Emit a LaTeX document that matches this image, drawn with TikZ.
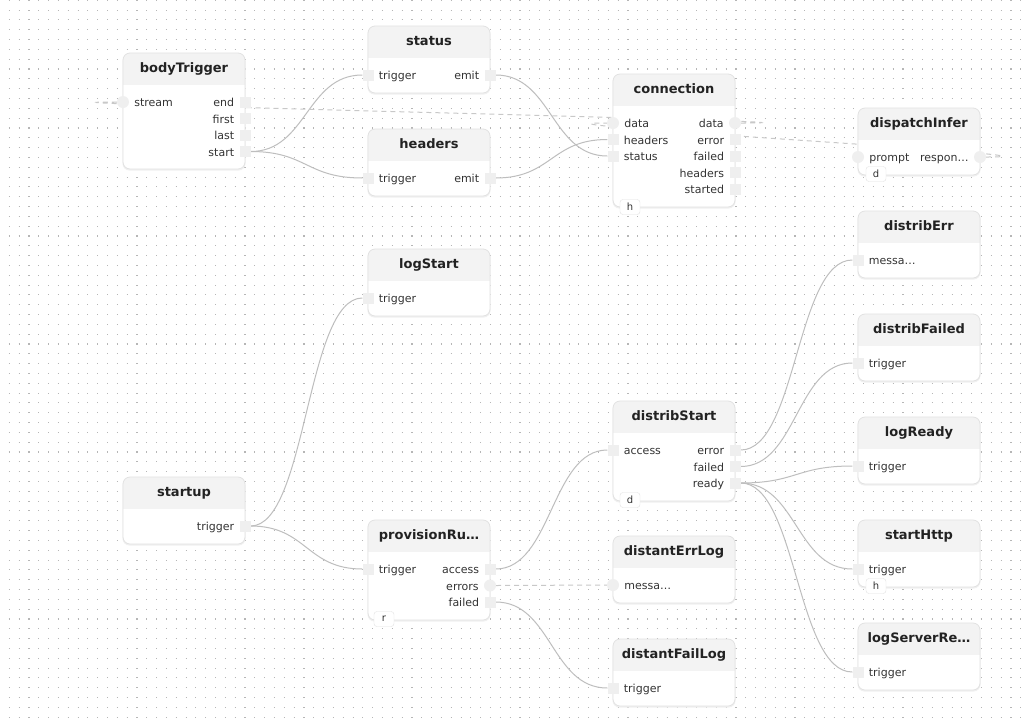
\documentclass[tikz,border=0pt]{standalone}
\usepackage{fontspec}
\setmainfont{DejaVu Sans}
\usepackage{xcolor}
\usepackage{tikz}
\usetikzlibrary{positioning}
\definecolor{gridcol}{HTML}{B6B6B6}
\definecolor{headfill}{HTML}{F3F3F3}
\definecolor{cardline}{HTML}{E2E2E2}
\definecolor{portfill}{HTML}{EFEFEF}
\definecolor{wirecol}{HTML}{BEBEBE}
\definecolor{dwirecol}{HTML}{C8C8C8}
\definecolor{labcol}{HTML}{333333}
\definecolor{titlecol}{HTML}{222222}
\pgfdeclarelayer{back}
\pgfsetlayers{back,main}
\newcommand{\flowcard}[5]{%
  \fill[black!6, rounded corners=7pt] (#2-0.5,#3+1.5) rectangle ++(123,#4);
  \begin{scope}
    \clip[rounded corners=7pt] (#2,#3) rectangle ++(122,#4);
    \fill[white] (#2,#3) rectangle ++(122,#4);
    \fill[headfill] (#2,#3) rectangle ++(122,32);
  \end{scope}
  \draw[cardline, line width=0.8pt, rounded corners=7pt] (#2,#3) rectangle ++(122,#4);
  \node[cardtitle] (#1) at (#2+61,#3+14.3) {#5};
}

\begin{document}
\begin{tikzpicture}[x=1pt, y=-1pt, label distance=5pt,
  griddots/.style={gridcol, line width=1.1pt, dash pattern=on 1.1pt off 8.72pt},
  cardtitle/.style={font=\fontsize{13}{15}\selectfont\bfseries, text=titlecol, inner sep=0pt, text height=9.4pt, text depth=0pt},
  lbl/.style={font=\fontsize{11}{13}\selectfont, text=labcol, inner sep=0pt, text height=9pt, text depth=0pt},
  sq/.style={rectangle, fill=portfill, minimum size=11pt, inner sep=0pt},
  circ/.style={circle, fill=portfill, minimum size=12pt, inner sep=0pt},
  tagbox/.style={draw=cardline, fill=white, rounded corners=3pt, minimum width=20pt, minimum height=15pt, inner sep=0pt, font=\fontsize{10}{12}\selectfont, text=labcol},
  wire/.style={wirecol, line width=1pt},
  dwire/.style={dwirecol, line width=1pt, dash pattern=on 5pt off 4pt}]
\useasboundingbox (0,0) rectangle (1021,724);

\flowcard{bt}{123}{53}{116}{bodyTrigger}
\node[circ, label={[lbl]right:stream}] (bt-stream) at (123,102) {};
\node[sq, label={[lbl]left:end}] (bt-end) at (245,102) {};
\node[sq, label={[lbl]left:first}] (bt-first) at (245,118.5) {};
\node[sq, label={[lbl]left:last}] (bt-last) at (245,135) {};
\node[sq, label={[lbl]left:start}] (bt-start) at (245,151.5) {};

\flowcard{st}{368}{26}{67}{status}
\node[sq, label={[lbl]right:trigger}] (st-trig) at (368,75) {};
\node[sq, label={[lbl]left:emit}] (st-emit) at (490,75) {};

\flowcard{hd}{368}{129}{67}{headers}
\node[sq, label={[lbl]right:trigger}] (hd-trig) at (368,178) {};
\node[sq, label={[lbl]left:emit}] (hd-emit) at (490,178) {};

\flowcard{cn}{613}{74}{133}{connection}
\node[circ, label={[lbl]right:data}] (cn-din) at (613,123) {};
\node[sq, label={[lbl]right:headers}] (cn-headers) at (613,139.5) {};
\node[sq, label={[lbl]right:status}] (cn-status) at (613,156) {};
\node[circ, label={[lbl]left:data}] (cn-dout) at (735,123) {};
\node[sq, label={[lbl]left:error}] (cn-error) at (735,139.5) {};
\node[sq, label={[lbl]left:failed}] (cn-failed) at (735,156) {};
\node[sq, label={[lbl]left:headers}] (cn-hout) at (735,172.5) {};
\node[sq, label={[lbl]left:started}] (cn-started) at (735,189) {};
\node[tagbox] (cn-tag) at (630,207) {h};

\flowcard{di}{858}{108}{67}{dispatchInfer}
\node[circ, label={[lbl]right:prompt}] (di-prompt) at (858,157) {};
\node[circ, label={[lbl]left:respon…}] (di-resp) at (980,157) {};
\node[tagbox] (di-tag) at (876,174) {d};

\flowcard{de}{858}{211}{67}{distribErr}
\node[sq, label={[lbl]right:messa…}] (de-msg) at (858,260) {};

\flowcard{dfa}{858}{314}{67}{distribFailed}
\node[sq, label={[lbl]right:trigger}] (dfa-trig) at (858,363) {};

\flowcard{lr}{858}{417}{67}{logReady}
\node[sq, label={[lbl]right:trigger}] (lr-trig) at (858,466) {};

\flowcard{sh}{858}{520}{67}{startHttp}
\node[sq, label={[lbl]right:trigger}] (sh-trig) at (858,569) {};
\node[tagbox] (sh-tag) at (876,586) {h};

\flowcard{lsr}{858}{623}{67}{logServerRe…}
\node[sq, label={[lbl]right:trigger}] (lsr-trig) at (858,672) {};

\flowcard{ls}{368}{249}{67}{logStart}
\node[sq, label={[lbl]right:trigger}] (ls-trig) at (368,298) {};

\flowcard{su}{123}{477}{67}{startup}
\node[sq, label={[lbl]left:trigger}] (su-trig) at (245,526) {};

\flowcard{pr}{368}{520}{100}{provisionRu…}
\node[sq, label={[lbl]right:trigger}] (pr-trig) at (368,569) {};
\node[sq, label={[lbl]left:access}] (pr-access) at (490,569) {};
\node[circ, label={[lbl]left:errors}] (pr-errors) at (490,585.5) {};
\node[sq, label={[lbl]left:failed}] (pr-failed) at (490,602) {};
\node[tagbox] (pr-tag) at (384,619) {r};

\flowcard{ds}{613}{401}{100}{distribStart}
\node[sq, label={[lbl]right:access}] (ds-access) at (613,450) {};
\node[sq, label={[lbl]left:error}] (ds-error) at (735,450) {};
\node[sq, label={[lbl]left:failed}] (ds-failed) at (735,466.5) {};
\node[sq, label={[lbl]left:ready}] (ds-ready) at (735,483) {};
\node[tagbox] (ds-tag) at (630,500) {d};

\flowcard{del}{613}{536}{67}{distantErrLog}
\node[circ, label={[lbl]right:messa…}] (del-msg) at (613,585) {};

\flowcard{dfl}{613}{639}{67}{distantFailLog}
\node[sq, label={[lbl]right:trigger}] (dfl-trig) at (613,688) {};

\begin{pgfonlayer}{back}
\fill[white] (0,0) rectangle (1021,724);
\foreach \k in {0,...,73}
  \draw[griddots] (8.8,0.3+9.82*\k) -- (1021,0.3+9.82*\k);
\draw[wire] (bt-start.east) .. controls +(56,0) and +(-56,0) .. (st-trig.west);
\draw[wire] (bt-start.east) .. controls +(56,0) and +(-56,0) .. (hd-trig.west);
\draw[wire] (st-emit.east) .. controls +(56,0) and +(-56,0) .. (cn-status.west);
\draw[wire] (hd-emit.east) .. controls +(56,0) and +(-56,0) .. (cn-headers.west);
\draw[dwire] (cn-dout.east) .. controls +(172,0) and +(-172,0) .. (bt-stream.west);
\draw[dwire] (di-resp.east) .. controls +(122,0) and +(-122,0) .. (cn-din.west);
\draw[wire] (su-trig.east) .. controls +(56,0) and +(-56,0) .. (ls-trig.west);
\draw[wire] (su-trig.east) .. controls +(56,0) and +(-56,0) .. (pr-trig.west);
\draw[wire] (pr-access.east) .. controls +(56,0) and +(-56,0) .. (ds-access.west);
\draw[dwire] (pr-errors.east) -- (del-msg.west);
\draw[wire] (pr-failed.east) .. controls +(56,0) and +(-56,0) .. (dfl-trig.west);
\draw[wire] (ds-error.east) .. controls +(56,0) and +(-56,0) .. (de-msg.west);
\draw[wire] (ds-failed.east) .. controls +(56,0) and +(-56,0) .. (dfa-trig.west);
\draw[wire] (ds-ready.east) .. controls +(56,0) and +(-56,0) .. (lr-trig.west);
\draw[wire] (ds-ready.east) .. controls +(56,0) and +(-56,0) .. (sh-trig.west);
\draw[wire] (ds-ready.east) .. controls +(56,0) and +(-56,0) .. (lsr-trig.west);
\end{pgfonlayer}
\end{tikzpicture}
\end{document}
